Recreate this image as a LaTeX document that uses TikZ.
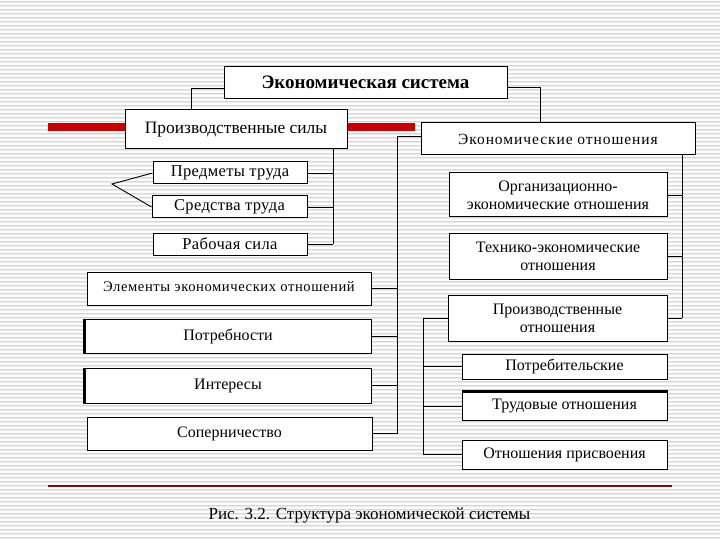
\documentclass[tikz,border=0pt]{standalone}
\usepackage{fontspec}
\setmainfont{Liberation Serif}
\usetikzlibrary{calc}
\definecolor{stripeA}{HTML}{D6D6D6}
\definecolor{stripeB}{HTML}{EAEAEA}
\definecolor{barred}{HTML}{CC0000}
\definecolor{linered}{HTML}{7A1010}
\tikzset{
  box/.style={draw=black, fill=white, line width=1pt, inner sep=0pt, align=center, font=\fontsize{16}{18}\selectfont},
  conn/.style={draw=black, line width=0.9pt},
  thickedge/.style={draw=black, line width=2.2pt},
}
\begin{document}
\begin{tikzpicture}[x=1pt,y=-1pt]
\useasboundingbox (0,0) rectangle (720,540);
\fill[white] (0,0) rectangle (720,540);
\foreach \k in {0,...,134} {
  \draw[stripeA, line width=1pt] (0,4*\k+1.5) -- (720,4*\k+1.5);
  \draw[stripeB, line width=1pt] (0,4*\k+2.5) -- (720,4*\k+2.5);
}
% red bar
\fill[barred] (48,123) rectangle (415,131);
% boxes
\node[box, font=\fontsize{19}{21}\selectfont\bfseries, minimum width=283pt, minimum height=32pt] (sys) at (365.5,83) {\raisebox{2pt}{Экономическая система}};
\node[box, font=\fontsize{17.4}{19}\selectfont, minimum width=222pt, minimum height=39pt] (pf) at (236,129.5) {Производственные силы};
\node[box, font=\fontsize{15.5}{17}\selectfont\addfontfeature{LetterSpace=6}, minimum width=274pt, minimum height=32pt] (eo) at (558,139) {Экономические отношения};
\node[box, font=\fontsize{16.5}{18}\selectfont\addfontfeature{LetterSpace=2}, minimum width=154pt, minimum height=22pt] (pt) at (230,173) {\raisebox{-1pt}{Предметы труда}};
\node[box, font=\fontsize{16.5}{18}\selectfont\addfontfeature{LetterSpace=2}, minimum width=155pt, minimum height=22pt] (st) at (229.5,207) {\raisebox{-1pt}{Средства труда}};
\node[box, font=\fontsize{16.5}{18}\selectfont\addfontfeature{LetterSpace=2}, minimum width=154pt, minimum height=22pt] (rs) at (230,244) {\raisebox{-1pt}{Рабочая сила}};
\node[box, minimum width=284pt, minimum height=33pt, font=\fontsize{14.6}{16}\selectfont\addfontfeature{LetterSpace=4}] (el) at (229,288.5) {\raisebox{3pt}{Элементы экономических отношений}};
\node[box, minimum width=286pt, minimum height=34pt] (po) at (228,336) {\raisebox{3pt}{Потребности}};
\node[box, minimum width=286pt, minimum height=35pt] (in) at (228,385.5) {\raisebox{3pt}{Интересы}};
\node[box, minimum width=285pt, minimum height=33pt] (so) at (229.5,433.5) {\raisebox{2pt}{Соперничество}};
\node[box, minimum width=218pt, minimum height=44pt] (oe) at (558,195) {Организационно-\\экономические отношения};
\node[box, minimum width=218pt, minimum height=46pt] (te) at (558,256) {Технико-экономические\\отношения};
\node[box, minimum width=219pt, minimum height=46pt] (pr) at (557.5,318) {Производственные\\отношения};
\node[box, minimum width=205pt, minimum height=25pt] (pb) at (564.5,366.5) {Потребительские};
\node[box, minimum width=205pt, minimum height=28pt] (tr) at (564.5,406) {Трудовые отношения};
\node[box, minimum width=205pt, minimum height=29pt] (op) at (564.5,454.5) {Отношения присвоения};
% thicker edges
\draw[thickedge] (po.north west) -- (po.south west);
\draw[thickedge] (in.north west) -- (in.south west);
\draw[thickedge] (tr.north west) -- (tr.north east);
% bus coordinates
\coordinate (bl) at (397,0);
\coordinate (br) at (682,0);
\coordinate (bp) at (423,0);
\coordinate (bf) at (333,0);
\coordinate (apex) at (112,184);
% connectors
\draw[conn] ([yshift=-5pt]sys.west) -| ([xshift=-45pt]pf.north);
\draw[conn] ([yshift=-4pt]sys.east) -| ([xshift=-18pt]eo.north);
\draw[conn] ([yshift=3pt]eo.west) -| (bl |- so.east);
\foreach \n in {el,po,in,so} \draw[conn] (\n.east) -- (bl |- \n.east);
\draw[conn] (br |- eo.south) -- (br |- pr.east);
\foreach \n in {oe,te,pr} \draw[conn] (\n.east) -- (br |- \n.east);
\draw[conn] (pr.west) -| (bp |- op.west);
\foreach \n in {pb,tr,op} \draw[conn] (\n.west) -- (bp |- \n.west);
\draw[conn] (bf |- pf.south) -- (bf |- rs.east);
\foreach \n in {pt,st,rs} \draw[conn] (\n.east) -- (bf |- \n.east);
\draw[conn] (pt.west) -- (apex) -- (st.west);
% bottom line and caption
\draw[linered, line width=1.2pt] (48,486) -- (672,486);
\node[font=\fontsize{17}{19}\selectfont, inner sep=0pt] (cap) at (369.5,516) {Рис. 3.2. Структура экономической системы};
\end{tikzpicture}
\end{document}
